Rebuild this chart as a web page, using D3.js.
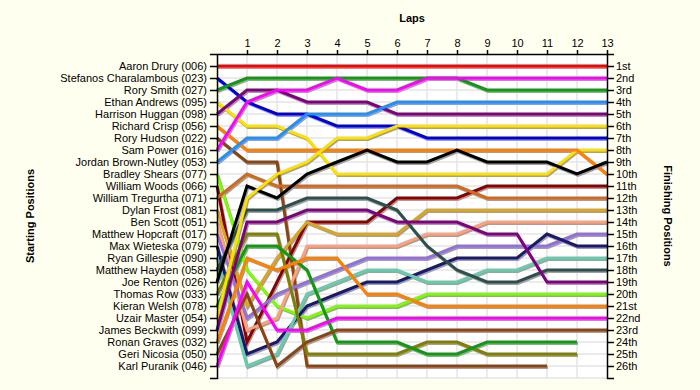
<!DOCTYPE html>
<html>
<head>
<meta charset="utf-8">
<script src="https://cdn.jsdelivr.net/npm/d3@7"></script>
<style>
  body { margin: 0; background: #fffff0; }
  svg { display: block; font-family: "Liberation Sans", Arial, sans-serif; }
  .axis text { font-size: 11px; fill: #000; }
  .axis path, .axis line { stroke: #000; stroke-width: 1.5; }
</style>
</head>
<body>
<div id="chart-area"></div>
<script>
// drivers in starting order
const drivers = [
  "Aaron Drury (006)", "Stefanos Charalambous (023)", "Rory Smith (027)", "Ethan Andrews (095)",
  "Harrison Huggan (098)", "Richard Crisp (056)", "Rory Hudson (022)", "Sam Power (016)",
  "Jordan Brown-Nutley (053)", "Bradley Shears (077)", "William Woods (066)", "William Tregurtha (071)",
  "Dylan Frost (081)", "Ben Scott (051)", "Matthew Hopcraft (017)", "Max Wieteska (079)",
  "Ryan Gillespie (090)", "Matthew Hayden (058)", "Joe Renton (026)", "Thomas Row (033)",
  "Kieran Welsh (078)", "Uzair Master (054)", "James Beckwith (099)", "Ronan Graves (032)",
  "Geri Nicosia (050)", "Karl Puranik (046)"
]

const driverColors = [
  "#ff0000", "#0000dd", "#109a10", "#ffe000", "#800080", "#ff7f00", "#8b4513", "#ff00ff",
  "#1e90ff", "#7cfc00", "#8b0000", "#d2691e", "#daa520", "#ffa07a", "#9370db", "#191970",
  "#66cdaa", "#2f4f4f", "#000000", "#808000", "#109a10", "#ffe000", "#800080", "#ff7f00",
  "#8b4513", "#ff00ff"
]

// position at lap 0..n (lines end when driver stopped)
const positions = [
  [1,1,1,1,1,1,1,1,1,1,1,1,1,1],
  [2,4,5,5,6,6,6,7,7,7,7,7,7,7],
  [3,2,2,2,2,2,2,2,2,3,3,3,3,3],
  [4,6,6,7,10,10,10,10,10,10,10,10,8,8],
  [5,3,3,4,4,4,5,5,5,5,5,5,5,5],
  [6,8,8,8,8,8,8,8,8,8,8,8,8,10],
  [7,9,9,26,26,26,26,26,26,26,26,26],
  [8,4,3,3,2,3,3,2,2,2,2,2,2,2],
  [9,7,7,5,5,5,4,4,4,4,4,4,4,4],
  [10,18,21,22,21,21,21,20,20,20,20,20,20,20],
  [11,24,19,14,14,14,12,12,12,11,11,11,11,11],
  [12,10,11,11,11,11,11,11,11,12,12,12,12,12],
  [13,21,17,14,15,15,15,13,13,13,13,13,13,13],
  [14,23,22,16,16,16,16,15,15,14,14,14,14,14],
  [15,22,20,19,18,17,17,17,16,16,16,16,15,15],
  [16,25,24,21,20,19,19,18,17,17,17,15,16,16],
  [17,26,25,20,19,18,18,19,19,18,18,17,17,17],
  [18,13,13,12,12,12,13,16,18,19,19,18,18,18],
  [19,11,12,10,9,8,9,9,8,9,9,9,10,9],
  [20,15,15,25,25,25,25,24,24,25,25,25,25],
  [21,16,16,18,24,24,24,25,25,24,24,24,24],
  [22,12,10,9,7,7,6,6,6,6,6,6,6,6],
  [23,14,14,13,13,13,14,14,14,15,15,19,19,19],
  [24,17,18,17,17,20,20,21,21,21,21,21,21,21],
  [25,20,26,24,23,23,23,23,23,23,23,23,23,23],
  [26,19,23,23,22,22,22,22,22,22,22,22,22,22]
]

const laps = [1,2,3,4,5,6,7,8,9,10,11,12,13]
const finishLabels = ["1st","2nd","3rd","4th","5th","6th","7th","8th","9th","10th","11th","12th","13th",
  "14th","15th","16th","17th","18th","19th","20th","21st","22nd","23rd","24th","25th","26th"]

const WIDTH = 700
const HEIGHT = 390
const PLOT = { LEFT: 217, RIGHT: 607, TOP: 54, BOTTOM: 378 }

const svg = d3.select("#chart-area").append("svg")
  .attr("width", WIDTH)
  .attr("height", HEIGHT)

svg.append("rect").attr("width", WIDTH).attr("height", HEIGHT).attr("fill", "#fffff0")

const x = d3.scaleLinear().domain([0, 13]).range([PLOT.LEFT, PLOT.RIGHT])
const y = d3.scaleLinear().domain([0, 27]).range([PLOT.TOP, PLOT.BOTTOM])
const posTicks = d3.range(1, 27)

// plot background
svg.append("rect")
  .attr("x", PLOT.LEFT).attr("y", PLOT.TOP)
  .attr("width", PLOT.RIGHT - PLOT.LEFT).attr("height", PLOT.BOTTOM - PLOT.TOP)
  .attr("fill", "#ffffff")

// grid
const grid = svg.append("g").attr("stroke", "#e4e4e4").attr("stroke-width", 1.5)
grid.selectAll(".h").data(posTicks.concat([27])).enter().append("line")
  .attr("x1", PLOT.LEFT).attr("x2", PLOT.RIGHT)
  .attr("y1", d => y(d)).attr("y2", d => y(d))
grid.selectAll(".v").data(laps.slice(0, -1)).enter().append("line")
  .attr("x1", d => x(d)).attr("x2", d => x(d))
  .attr("y1", PLOT.TOP).attr("y2", PLOT.BOTTOM)

// lines
const line = d3.line().x((d, i) => x(i)).y(d => y(d))
const lines = svg.append("g").attr("fill", "none").attr("stroke-width", 3).attr("stroke-linejoin", "miter")
lines.selectAll(".shadow").data(positions).enter().append("path")
  .attr("d", line)
  .attr("stroke", "#a0a0a0")
  .attr("transform", "translate(1,1.5)")
lines.selectAll(".race").data(positions).enter().append("path")
  .attr("d", line)
  .attr("stroke", (d, i) => driverColors[i])

// axes
svg.append("g")
  .attr("class", "axis")
  .attr("transform", `translate(${PLOT.LEFT},0)`)
  .call(d3.axisLeft(y).tickValues(posTicks).tickSize(7).tickSizeOuter(7).tickPadding(3)
    .tickFormat(d => drivers[d - 1]))

svg.append("g")
  .attr("class", "axis")
  .attr("transform", `translate(${PLOT.RIGHT},0)`)
  .call(d3.axisRight(y).tickValues(posTicks).tickSize(7).tickSizeOuter(7).tickPadding(2)
    .tickFormat(d => finishLabels[d - 1]))

svg.append("g")
  .attr("class", "axis")
  .attr("transform", `translate(0,${PLOT.TOP})`)
  .call(d3.axisTop(x).tickValues(laps).tickSize(4).tickSizeOuter(0).tickPadding(3))

// titles
svg.append("text")
  .attr("x", (PLOT.LEFT + PLOT.RIGHT) / 2)
  .attr("y", 22)
  .attr("text-anchor", "middle")
  .attr("font-size", "11px")
  .attr("font-weight", "bold")
  .text("Laps")

svg.append("text")
  .attr("transform", `translate(34, ${(PLOT.TOP + PLOT.BOTTOM) / 2}) rotate(-90)`)
  .attr("text-anchor", "middle")
  .attr("font-size", "11px")
  .attr("font-weight", "bold")
  .text("Starting Positions")

svg.append("text")
  .attr("transform", `translate(664, ${(PLOT.TOP + PLOT.BOTTOM) / 2}) rotate(90)`)
  .attr("text-anchor", "middle")
  .attr("font-size", "11px")
  .attr("font-weight", "bold")
  .text("Finishing Positions")
</script>
</body>
</html>
